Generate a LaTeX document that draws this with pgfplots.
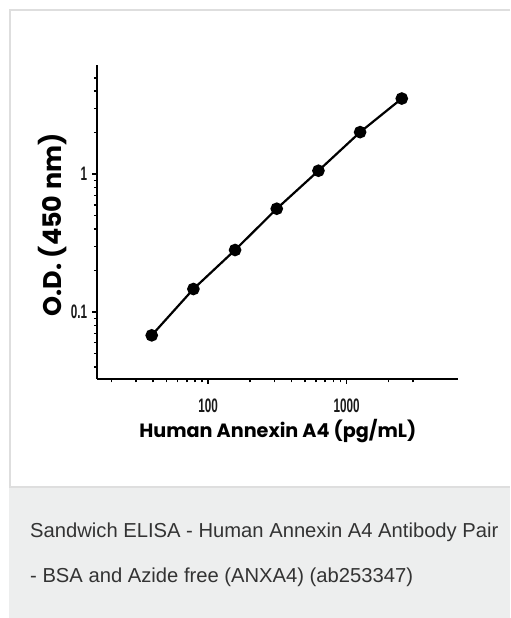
\documentclass[border=0pt]{standalone}
\usepackage{pgfplots}
\pgfplotsset{compat=1.18}
\usepackage{fontspec}
\setmainfont{Liberation Sans}
\newfontfamily\labfont{Poppins}[UprightFont=* Bold]
\definecolor{capbg}{RGB}{237,238,238}
\definecolor{frame}{RGB}{222,222,222}
\definecolor{captxt}{RGB}{51,51,51}
\newcommand\tl[1]{\scalebox{0.6}[1]{\fontsize{19.5bp}{20bp}\selectfont\bfseries #1}}
\begin{document}
\begin{tikzpicture}
\fill[white] (0,0) rectangle (510bp,618bp);
\fill[capbg] (9bp,0) rectangle (510bp,131bp);
\draw[frame, line width=1.5bp] (510bp,608bp) -- (10bp,608bp) -- (10bp,131bp) -- (510bp,131bp);
\begin{axis}[
  at={(97.3bp,239bp)}, anchor=south west,
  scale only axis, width=361bp, height=314bp,
  xmode=log, ymode=log,
  xmin=15.8, xmax=6400, ymin=0.0327, ymax=6.2,
  axis lines=left,
  axis line style={-, line width=2bp, black},
  tick align=outside,
  major tick length=5bp, minor tick length=3.5bp,
  every tick/.style={black, line width=1.5bp},
  xtick={100,1000}, xticklabels={\tl{100},\tl{1000}},
  minor xtick={20,30,40,50,60,70,80,90,200,300,400,500,600,700,800,900,2000,3000},
  ytick={0.1,1}, yticklabels={\tl{0.1},\tl{1}},
  minor ytick={0.04,0.05,0.06,0.07,0.08,0.09,0.2,0.3,0.4,0.5,0.6,0.7,0.8,0.9,2,3,4,5},
  tick label style={text=black!90, inner sep=0pt},
  xticklabel style={anchor=north, yshift=-15bp},
  yticklabel style={anchor=east, xshift=-5bp},
  xlabel={Human Annexin A4 (pg/mL)},
  ylabel={O.D. (450 nm)},
  label style={text=black},
  xlabel style={font=\labfont\fontsize{19.2bp}{22bp}\selectfont, at={(axis description cs:0.5,0)}, anchor=base, yshift=-58bp},
  ylabel style={font=\labfont\fontsize{25.5bp}{28bp}\selectfont, at={(axis description cs:0,0.5)}, anchor=base, yshift=36bp, xshift=-3bp},
]
\addplot[black, line width=2.2bp, mark=*, mark size=5.2bp] coordinates {
(39.0625,0.0678) (78.125,0.147) (156.25,0.282) (312.5,0.562) (625,1.06) (1250,2.02) (2500,3.54)
};
\end{axis}
\node[anchor=base west, text=captxt, font=\fontsize{20.2bp}{22bp}\selectfont, inner sep=0] at (30bp,80bp) {Sandwich ELISA - Human Annexin A4 Antibody Pair};
\node[anchor=base west, text=captxt, font=\fontsize{20.2bp}{22bp}\selectfont, inner sep=0] at (30bp,36bp) {- BSA and Azide free (ANXA4) (ab253347)};
\end{tikzpicture}
\end{document}
